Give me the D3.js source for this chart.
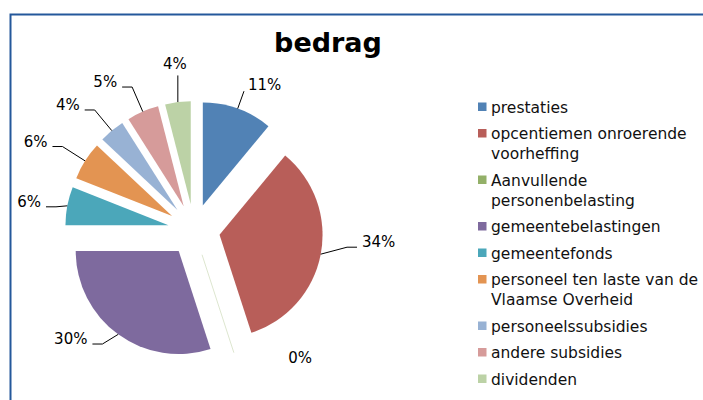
<!DOCTYPE html>
<html>
<head>
<meta charset="utf-8">
<script src="https://cdn.jsdelivr.net/npm/d3@7"></script>
<style>
  body { margin: 0; background: #fff; }
  svg { display: block; font-family: "DejaVu Sans", sans-serif; }
  .leader { fill: none; stroke: #000; stroke-width: 1; }
</style>
</head>
<body>
<script>
(function(){

//chart data
var categories = ["prestaties", "opcentiemen onroerende voorheffing", "Aanvullende personenbelasting",
    "gemeentebelastingen", "gemeentefonds", "personeel ten laste van de Vlaamse Overheid",
    "personeelssubsidies", "andere subsidies", "dividenden"];
var legendLines = [["prestaties"], ["opcentiemen onroerende", "voorheffing"], ["Aanvullende", "personenbelasting"],
    ["gemeentebelastingen"], ["gemeentefonds"], ["personeel ten laste van de", "Vlaamse Overheid"],
    ["personeelssubsidies"], ["andere subsidies"], ["dividenden"]];
var values = [11, 34, 0, 30, 6, 6, 4, 5, 4]; //percent of bedrag
var colors = ["#5182B5", "#B85E59", "#93B068", "#7E6A9E", "#4BA7BA", "#E39452", "#98B2D4", "#D69B9A", "#BCD2A6"];
var title = "bedrag";

var width = 703, height = 400;

var svg = d3.select("body")
    .append("svg")
    .attr("width", width)
    .attr("height", height);

//chart frame
svg.append("rect")
    .attr("x", 10.5)
    .attr("y", 14.5)
    .attr("width", width + 10)
    .attr("height", height + 10)
    .attr("fill", "#fff")
    .attr("stroke", "#24589B")
    .attr("stroke-width", 2);

svg.append("text")
    .attr("x", 328)
    .attr("y", 52)
    .attr("text-anchor", "middle")
    .style("font-size", "27px")
    .style("font-weight", "bold")
    .text(title);

//pie layout
var cx = 194, cy = 230, radius = 103, explode = 26;

var pie = d3.pie()
    .sort(null)
    .value(function(d){ return d; });

var arc = d3.arc()
    .innerRadius(0)
    .outerRadius(radius);

var arcs = pie(values);

function mid(d){ return (d.startAngle + d.endAngle) / 2; }
function offset(d, r){
    var a = mid(d);
    return [Math.sin(a) * r, -Math.cos(a) * r];
}

var g = svg.append("g")
    .attr("transform", "translate(" + cx + "," + cy + ")");

var slices = g.selectAll(".slice")
    .data(arcs)
    .enter()
    .append("g")
    .attr("class", "slice")
    .attr("transform", function(d){
        var o = offset(d, explode);
        return "translate(" + o[0] + "," + o[1] + ")";
    });

slices.append("path")
    .attr("d", function(d){
        if (d.value === 0){
            //zero slice only shows as a hairline
            var o = offset(d, radius);
            return "M0,0L" + o[0] + "," + o[1];
        }
        return arc(d);
    })
    .attr("fill", function(d, i){ return colors[i]; })
    .attr("stroke", function(d, i){ return d.value === 0 ? "#DDE6CF" : "none"; })
    .attr("stroke-width", 1);

//data labels with leader lines
var labelFont = 15;
slices.each(function(d, i){
    var sel = d3.select(this);
    var a = mid(d);
    var p0 = offset(d, radius);
    var p1 = offset(d, radius * 1.26);
    var label = d3.format(".0f")(d.value) + "%";

    if (d.value === 0){
        sel.append("text")
            .attr("x", p1[0] + 58)
            .attr("y", p1[1] - 15)
            .attr("text-anchor", "middle")
            .style("font-size", labelFont + "px")
            .text(label);
        return;
    }

    //labels below the centre are pulled up a bit
    if (Math.cos(a) < 0) p1[1] -= 12;

    //keep labels inside the frame
    if (cx + offset(d, explode)[0] + p1[0] < 56){
        p1[0] = 56 - cx - offset(d, explode)[0];
        p1[1] = p0[1] + 1;
    }

    if (Math.abs(Math.sin(a)) < 0.2){
        sel.append("path")
            .attr("class", "leader")
            .attr("d", "M" + p0[0] + "," + p0[1] + "L" + p0[0] + "," + p1[1]);
        sel.append("text")
            .attr("x", p0[0] - 3)
            .attr("y", p1[1] - 6)
            .attr("text-anchor", "middle")
            .style("font-size", labelFont + "px")
            .text(label);
    } else if (Math.sin(a) > 0 && Math.cos(a) > 0.5){
        //straight leader, label at its end
        var p3 = offset(d, radius * 1.18);
        sel.append("path")
            .attr("class", "leader")
            .attr("d", "M" + p0[0] + "," + p0[1] + "L" + p3[0] + "," + p3[1]);
        sel.append("text")
            .attr("x", p3[0] + 4)
            .attr("y", p3[1] - 1)
            .style("font-size", labelFont + "px")
            .text(label);
    } else {
        var side = Math.sin(a) > 0 ? 1 : -1;
        var p2 = [p1[0] + side * 10, p1[1]];
        sel.append("path")
            .attr("class", "leader")
            .attr("d", "M" + p0[0] + "," + p0[1] + "L" + p1[0] + "," + p1[1] + "L" + p2[0] + "," + p2[1]);
        sel.append("text")
            .attr("x", p2[0] + side * 5)
            .attr("y", p2[1])
            .attr("text-anchor", side > 0 ? "start" : "end")
            .style("font-size", labelFont + "px")
            .text(label);
    }
});

//legend
var legendX = 478, legendY = 107, lineH = 20, entryStep = 26.5;
var legend = svg.append("g");
var yPos = legendY;
legendLines.forEach(function(lines, i){
    var item = legend.append("g")
        .attr("transform", "translate(" + legendX + "," + yPos + ")");
    item.append("rect")
        .attr("x", 0)
        .attr("y", -4.5)
        .attr("width", 8.5)
        .attr("height", 8.5)
        .attr("fill", colors[i]);
    item.selectAll("text")
        .data(lines)
        .enter()
        .append("text")
        .attr("x", 13)
        .attr("y", function(t, j){ return 5.5 + j * lineH; })
        .style("font-size", "15.5px")
        .attr("fill", "#111")
        .text(function(t){ return t; });
    yPos += entryStep + (lines.length - 1) * lineH;
});

})();
</script>
</body>
</html>
